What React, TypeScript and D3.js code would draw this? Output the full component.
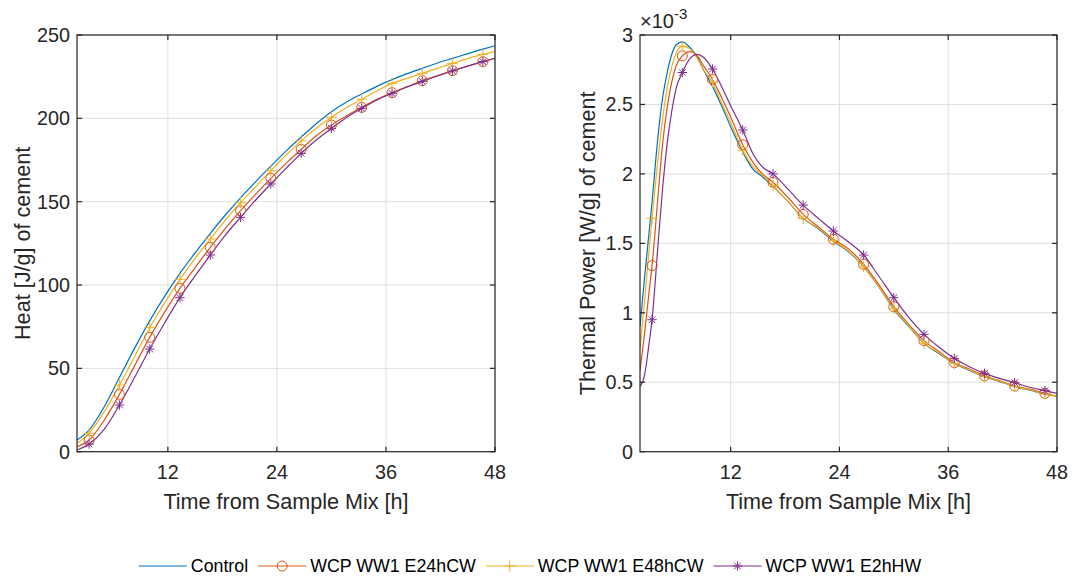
import React, { useEffect, useRef } from 'react';
import * as d3 from 'd3';

const seriesNames = ['Control', 'WCP WW1 E24hCW', 'WCP WW1 E48hCW', 'WCP WW1 E2hHW'];
const seriesColors = ['#0072bd', '#d95319', '#edb120', '#7e2f8e'];
const seriesMarkers = ['none', 'circle', 'plus', 'asterisk'];

const hourTicks = [12, 24, 36, 48];
const markerHours = [3.33, 6.67, 10, 13.33, 16.67, 20, 23.33, 26.67, 30, 33.33, 36.67, 40, 43.33, 46.67];

// cumulative heat, J/g of cement
const heatTicks = [0, 50, 100, 150, 200, 250];
const heatHours = [2, 3.33, 5, 6.67, 8.33, 10, 11.67, 13.33, 15, 16.67, 18.33, 20, 21.67, 23.33, 25, 26.67,
  28.33, 30, 31.67, 33.33, 35, 36.67, 38.33, 40, 41.67, 43.33, 45, 46.67, 48];
const heatControl = [7, 13, 27, 44.5, 62, 78.5, 93.5, 107, 119.3, 131, 142, 152.3, 162, 171.3, 180.3, 188.8,
  196.8, 204, 209.8, 214.6, 219.2, 223.2, 226.8, 230, 233.2, 236, 238.8, 241.5, 243.5];
const heatE24 = [3, 7, 19, 34.4, 51.5, 68.6, 84, 98, 110.5, 122.6, 134, 144.6, 154.5, 164, 173, 181.4,
  189.5, 196, 201.5, 206.6, 211.5, 215.4, 219, 222.6, 225.6, 228.6, 231.4, 234, 236];
const heatE48 = [5, 11, 24, 40, 57, 74.4, 89.5, 103.4, 116, 127.6, 139, 149.4, 159, 168.6, 178, 186.5,
  194, 200.6, 206.5, 211.4, 216.5, 221, 224, 227, 230, 233, 235.8, 238.4, 240];
const heatE2h = [1, 4.6, 13.5, 28, 44.5, 61.6, 77.5, 92.4, 105.5, 118, 130, 140.6, 151, 160.6, 170, 179,
  187, 194, 200.5, 206, 211, 215, 218.8, 222.2, 225.4, 228.4, 231.3, 234, 236];

// thermal power, x10^-3 W/g of cement
const powerTicks = [0, 0.5, 1, 1.5, 2, 2.5, 3];
const powerHours = [2, 2.5, 3, 3.33, 4, 4.5, 5, 5.5, 6, 6.67, 7.5, 8.33, 9, 10, 11, 12, 13.33, 14.5, 15.5,
  16.67, 18.33, 20, 21.67, 23.33, 25, 26.67, 28.33, 30, 31.67, 33.33, 35, 36.67, 38.33, 40, 41.67, 43.33,
  45, 46.67, 48];
const powerControl = [0.9, 1.25, 1.58, 1.8, 2.28, 2.55, 2.73, 2.86, 2.93, 2.95, 2.91, 2.84, 2.75, 2.63, 2.49,
  2.34, 2.16, 2.03, 1.98, 1.91, 1.8, 1.68, 1.605, 1.515, 1.44, 1.33, 1.188, 1.025, 0.9, 0.78, 0.705, 0.635,
  0.585, 0.54, 0.505, 0.47, 0.443, 0.415, 0.4];
const powerE24 = [0.58, 0.85, 1.15, 1.34, 1.85, 2.22, 2.48, 2.66, 2.78, 2.85, 2.88, 2.85, 2.78, 2.68, 2.55,
  2.41, 2.21, 2.08, 2.0, 1.94, 1.83, 1.709, 1.62, 1.529, 1.46, 1.349, 1.205, 1.044, 0.915, 0.8, 0.72, 0.641,
  0.595, 0.545, 0.512, 0.473, 0.45, 0.42, 0.4];
const powerE48 = [0.74, 1.08, 1.45, 1.68, 2.12, 2.4, 2.62, 2.77, 2.87, 2.92, 2.9, 2.83, 2.75, 2.66, 2.51,
  2.37, 2.17, 2.05, 1.99, 1.915, 1.8, 1.68, 1.61, 1.52, 1.445, 1.33, 1.19, 1.03, 0.905, 0.78, 0.71, 0.635,
  0.59, 0.54, 0.508, 0.47, 0.446, 0.415, 0.4];
const powerE2h = [0.47, 0.55, 0.78, 0.95, 1.5, 1.9, 2.22, 2.45, 2.62, 2.73, 2.83, 2.86, 2.84, 2.755, 2.63,
  2.49, 2.316, 2.14, 2.05, 2.0, 1.89, 1.775, 1.68, 1.589, 1.51, 1.416, 1.265, 1.109, 0.965, 0.845, 0.752,
  0.672, 0.612, 0.564, 0.528, 0.497, 0.464, 0.44, 0.42];

const FONT = 'Arial, "Liberation Sans", Helvetica, sans-serif';
const AX = '#262626';

const drawMarker = (g, type, x, y, color) => {
  if (type === 'circle') {
    g.append('circle').attr('cx', x).attr('cy', y).attr('r', 5)
      .attr('fill', 'none').attr('stroke', color).attr('stroke-width', 1);
  } else if (type === 'plus') {
    g.append('path').attr('d', `M${x - 5.5},${y}H${x + 5.5}M${x},${y - 5.5}V${y + 5.5}`)
      .attr('stroke', color).attr('stroke-width', 1);
  } else if (type === 'asterisk') {
    const d = 3.3;
    g.append('path')
      .attr('d', `M${x - 4.7},${y}H${x + 4.7}M${x},${y - 4.7}V${y + 4.7}M${x - d},${y - d}L${x + d},${y + d}M${x - d},${y + d}L${x + d},${y - d}`)
      .attr('stroke', color).attr('stroke-width', 1);
  }
};

const drawPanel = (svg, o) => {
  const x = d3.scaleLinear().domain([2, 48]).range([o.left, o.right]);
  const y = d3.scaleLinear().domain(o.yDomain).range([o.bottom, o.top]);
  const g = svg.append('g');

  // grid
  g.selectAll('.gx').data(hourTicks).enter().append('line')
    .attr('x1', d => x(d)).attr('x2', d => x(d)).attr('y1', o.top).attr('y2', o.bottom)
    .attr('stroke', '#dfdfdf').attr('stroke-width', 1);
  g.selectAll('.gy').data(o.yTicks).enter().append('line')
    .attr('x1', o.left).attr('x2', o.right).attr('y1', d => y(d)).attr('y2', d => y(d))
    .attr('stroke', '#dfdfdf').attr('stroke-width', 1);

  // series
  const clipId = `clip-${o.id}`;
  svg.append('clipPath').attr('id', clipId).append('rect')
    .attr('x', o.left).attr('y', o.top).attr('width', o.right - o.left).attr('height', o.bottom - o.top);
  const line = d3.line().x(d => x(d[0])).y(d => y(d[1])).curve(d3.curveMonotoneX);
  const sg = svg.append('g').attr('clip-path', `url(#${clipId})`);
  o.series.forEach((vals, i) => {
    const pts = o.hours.map((h, j) => [h, vals[j]]);
    sg.append('path').attr('d', line(pts)).attr('fill', 'none')
      .attr('stroke', seriesColors[i]).attr('stroke-width', 1.2);
    pts.filter(p => markerHours.includes(p[0]))
      .forEach(p => drawMarker(svg, seriesMarkers[i], x(p[0]), y(p[1]), seriesColors[i]));
  });

  // box + inward ticks
  const a = svg.append('g').attr('stroke', AX).attr('stroke-width', 1.2);
  a.append('rect').attr('x', o.left).attr('y', o.top).attr('width', o.right - o.left)
    .attr('height', o.bottom - o.top).attr('fill', 'none');
  hourTicks.forEach(t => {
    a.append('line').attr('x1', x(t)).attr('x2', x(t)).attr('y1', o.bottom).attr('y2', o.bottom - 5);
    a.append('line').attr('x1', x(t)).attr('x2', x(t)).attr('y1', o.top).attr('y2', o.top + 5);
  });
  o.yTicks.forEach(t => {
    a.append('line').attr('x1', o.left).attr('x2', o.left + 5).attr('y1', y(t)).attr('y2', y(t));
    a.append('line').attr('x1', o.right).attr('x2', o.right - 5).attr('y1', y(t)).attr('y2', y(t));
  });

  // tick labels
  svg.append('g').selectAll('text').data(hourTicks).enter().append('text')
    .attr('x', d => x(d)).attr('y', o.bottom + 27.5).attr('text-anchor', 'middle')
    .style('font-family', FONT).style('font-size', '19.8px').attr('fill', AX)
    .text(d => d);
  svg.append('g').selectAll('text').data(o.yTicks).enter().append('text')
    .attr('x', o.left - 7).attr('y', d => y(d) + 7).attr('text-anchor', 'end')
    .style('font-family', FONT).style('font-size', '19.8px').attr('fill', AX)
    .text(d => d);

  // axis labels
  svg.append('text').attr('x', (o.left + o.right) / 2).attr('y', o.bottom + 57.5)
    .attr('text-anchor', 'middle').style('font-family', FONT).style('font-size', '21.6px').attr('fill', AX)
    .text('Time from Sample Mix [h]');
  svg.append('text')
    .attr('transform', `translate(${o.yLabelX},${(o.top + o.bottom) / 2}) rotate(-90)`)
    .attr('text-anchor', 'middle').style('font-family', FONT).style('font-size', '21.6px').attr('fill', AX)
    .text(o.yLabel);
};

const App = () => {
  const svgRef = useRef(null);

  useEffect(() => {
    const svg = d3.select(svgRef.current);
    svg.selectAll('*').remove();

    drawPanel(svg, {
      id: 'heat', left: 77, right: 495, top: 35, bottom: 451.7,
      yDomain: [0, 250], yTicks: heatTicks, hours: heatHours,
      series: [heatControl, heatE24, heatE48, heatE2h],
      yLabel: 'Heat [J/g] of cement', yLabelX: 30,
    });
    drawPanel(svg, {
      id: 'power', left: 640, right: 1057, top: 35, bottom: 451.7,
      yDomain: [0, 3], yTicks: powerTicks, hours: powerHours,
      series: [powerControl, powerE24, powerE48, powerE2h],
      yLabel: 'Thermal Power [W/g] of cement', yLabelX: 595,
    });

    // exponent label
    const ex = svg.append('text').attr('x', 640).attr('y', 28)
      .style('font-family', FONT).style('font-size', '20px').attr('fill', AX);
    ex.append('tspan').text('\u00d710');
    ex.append('tspan').attr('dy', -9).style('font-size', '15px').text('-3');

    // legend
    const leg = svg.append('g');
    const items = seriesNames.map((name, i) => {
      const it = leg.append('g');
      it.append('line').attr('x1', 0).attr('x2', 48).attr('y1', 0).attr('y2', 0)
        .attr('stroke', seriesColors[i]).attr('stroke-width', 1.2);
      drawMarker(it, seriesMarkers[i], 24, 0, seriesColors[i]);
      const t = it.append('text').attr('x', 52).attr('y', 6.3)
        .style('font-family', FONT).style('font-size', '17.8px').attr('fill', '#000').text(name);
      return { it, w: 52 + t.node().getComputedTextLength() };
    });
    const gap = 10;
    const total = d3.sum(items, d => d.w) + gap * (items.length - 1);
    let cx = 530 - total / 2;
    items.forEach(d => {
      d.it.attr('transform', `translate(${cx},566)`);
      cx += d.w + gap;
    });
  }, []);

  return (
    <div style={{ position: 'absolute', left: 0, top: 0, width: 1072, height: 579, background: '#fff' }}>
      <svg ref={svgRef} width={1072} height={579} style={{ display: 'block' }} />
    </div>
  );
};

export default App;
